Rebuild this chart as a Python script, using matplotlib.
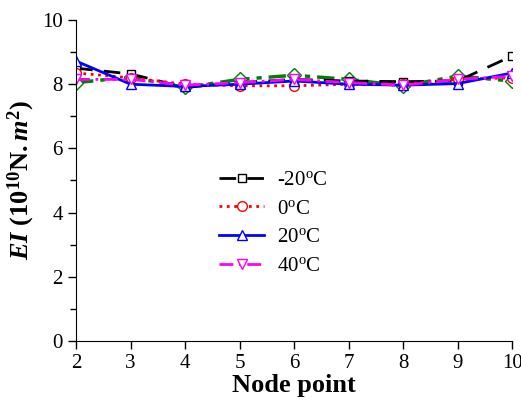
import numpy as np
import matplotlib
matplotlib.use('Agg')
import matplotlib.pyplot as plt
from matplotlib.ticker import MultipleLocator

plt.rcParams['font.family'] = 'Liberation Serif'
plt.rcParams['mathtext.fontset'] = 'custom'
plt.rcParams['mathtext.rm'] = 'Liberation Serif:bold'
plt.rcParams['mathtext.bf'] = 'Liberation Serif:bold'
plt.rcParams['mathtext.it'] = 'Liberation Serif:italic:bold'
plt.rcParams['mathtext.sf'] = 'Liberation Serif'

# node points along the beam
nodes = [2, 3, 4, 5, 6, 7, 8, 9, 10]

# EI values (10^10 N.m^2)
ei_m20 = [8.50, 8.32, 7.90, 8.05, 8.15, 8.10, 8.08, 8.10, 8.88]
ei_0 = [8.35, 8.20, 8.00, 7.95, 7.95, 8.00, 8.00, 8.15, 8.20]
ei_20 = [8.72, 8.00, 7.93, 8.00, 8.10, 8.00, 7.97, 8.02, 8.35]
ei_40 = [8.15, 8.15, 7.97, 8.05, 8.15, 8.05, 7.97, 8.15, 8.25]
ei_60 = [8.05, 8.22, 7.90, 8.15, 8.28, 8.15, 7.95, 8.25, 8.10]

fig = plt.figure(figsize=(5.21, 4.01), dpi=100)
ax = fig.add_axes([0.146, 0.150, 0.837, 0.800])

ax.plot(nodes, ei_m20, color='black', lw=2, dashes=(6, 4), marker='s', ms=6,
        mfc='white', mec='black', mew=1, label='-20$^\\mathsf{o}$C')
ax.plot(nodes, ei_0, color='red', lw=2, ls=':', marker='o', ms=7,
        mfc='white', mec='red', mew=1, label='0$^\\mathsf{o}$C')
ax.plot(nodes, ei_20, color='blue', lw=2, ls='-', marker='^', ms=7.5,
        mfc='white', mec='blue', mew=1, label='20$^\\mathsf{o}$C')
ax.plot(nodes, ei_40, color='magenta', lw=2, dashes=(5, 2, 1, 2), marker='v', ms=7.5,
        mfc='white', mec='magenta', mew=1, label='40$^\\mathsf{o}$C')
ax.plot(nodes, ei_60, color='green', lw=2.5, dashes=(5, 2, 1.5, 2, 1.5, 2), marker='D', ms=7,
        mfc='white', mec='green', mew=1, zorder=1)

ax.set_xlim(2, 10)
ax.set_ylim(0, 10)
ax.xaxis.set_major_locator(MultipleLocator(1))
ax.yaxis.set_major_locator(MultipleLocator(2))
ax.yaxis.set_minor_locator(MultipleLocator(1))
ax.spines['top'].set_visible(False)
ax.spines['right'].set_visible(False)
ax.tick_params(direction='out', length=6, width=1, labelsize=15)
ax.tick_params(which='minor', direction='out', length=4, width=1)

ax.set_xlabel('Node point', fontsize=19, fontweight='bold', labelpad=1)
ax.set_ylabel(r'$\mathit{EI}\ \mathrm{(10^{10}N.}\mathit{m}^{\mathrm{2}}\mathrm{)}$', fontsize=19, labelpad=4)

ax.legend(loc='upper left', bbox_to_anchor=(0.284, 0.59), frameon=False, fontsize=15,
          handlelength=2.2, labelspacing=0.44, handletextpad=0.6)

fig.savefig('out.png', dpi=100)
